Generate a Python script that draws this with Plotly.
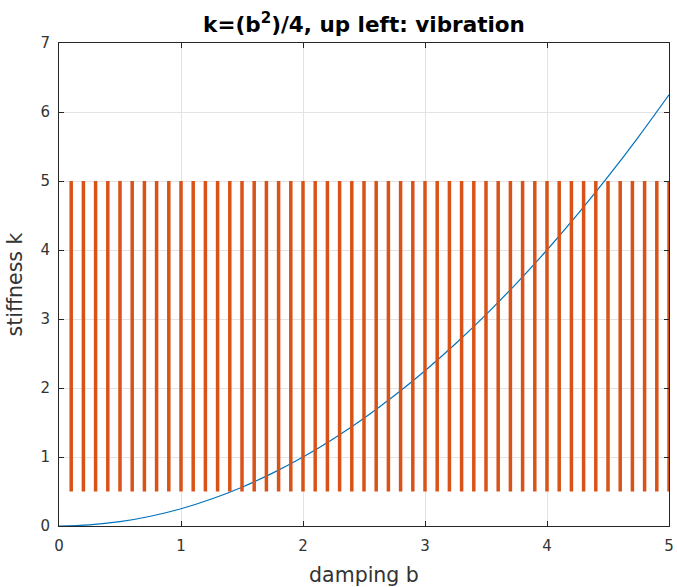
import plotly.graph_objects as go

# curve samples (damping b, stiffness k)
curve_b = [0, 0.25, 0.5, 0.75, 1.0, 1.25, 1.5, 1.75, 2.0, 2.25, 2.5, 2.75, 3.0,
           3.25, 3.5, 3.75, 4.0, 4.25, 4.5, 4.75, 5.0]
curve_k = [0, 0.016, 0.0625, 0.141, 0.25, 0.391, 0.5625, 0.766, 1.0, 1.266, 1.5625,
           1.891, 2.25, 2.641, 3.0625, 3.516, 4.0, 4.516, 5.0625, 5.641, 6.25]

# vertical bars (damping positions) spanning stiffness low..high
bar_b = [0.1, 0.2, 0.3, 0.4, 0.5, 0.6, 0.7, 0.8, 0.9, 1.0,
         1.1, 1.2, 1.3, 1.4, 1.5, 1.6, 1.7, 1.8, 1.9, 2.0,
         2.1, 2.2, 2.3, 2.4, 2.5, 2.6, 2.7, 2.8, 2.9, 3.0,
         3.1, 3.2, 3.3, 3.4, 3.5, 3.6, 3.7, 3.8, 3.9, 4.0,
         4.1, 4.2, 4.3, 4.4, 4.5, 4.6, 4.7, 4.8, 4.9, 5.0]
bar_low = 0.5
bar_high = 5.0

x_ticks = [0, 1, 2, 3, 4, 5]
y_ticks = [0, 1, 2, 3, 4, 5, 6, 7]

bx, by = [], []
for b in bar_b:
    bx += [b, b, None]
    by += [bar_low, bar_high, None]

fig = go.Figure()
fig.add_trace(go.Scatter(x=curve_b, y=curve_k, mode="lines",
                         line=dict(color="#0072BD", width=1.2, shape="spline"),
                         showlegend=False, hoverinfo="skip"))
fig.add_trace(go.Scatter(x=bx, y=by, mode="lines",
                         line=dict(color="#D95319", width=3.5),
                         showlegend=False, hoverinfo="skip", cliponaxis=False))

font = "DejaVu Sans"
axis_common = dict(showline=True, mirror="ticks", linecolor="#262626", linewidth=1,
                   ticks="inside", ticklen=5, tickcolor="#262626",
                   showgrid=True, gridcolor="#e3e3e3", gridwidth=1,
                   zeroline=False, automargin=False,
                   tickfont=dict(family=font, size=15, color="#333333"))

fig.update_layout(
    width=677, height=587,
    margin=dict(l=59, r=8, t=43, b=61),
    paper_bgcolor="white", plot_bgcolor="white",
    title=dict(text="<b>k=(b<sup>2</sup>)/4, up left: vibration</b>",
               x=0.5, xanchor="center", y=0.958, yanchor="middle",
               xref="paper",
               font=dict(family=font, size=21.5, color="black")),
    xaxis=dict(range=[0, 5], tickvals=x_ticks, ticklabelstandoff=6,
               title=dict(text="damping b", font=dict(family=font, size=20.5, color="#333333"),
                          standoff=14),
               **axis_common),
    yaxis=dict(range=[0, 7], tickvals=y_ticks, ticklabelstandoff=5,
               title=dict(text="stiffness k", font=dict(family=font, size=20.5, color="#333333"),
                          standoff=12),
               **axis_common),
)

fig.write_html("out.html", config={"displayModeBar": False},
               post_script="document.body.style.margin='0';document.body.style.padding='0';")
